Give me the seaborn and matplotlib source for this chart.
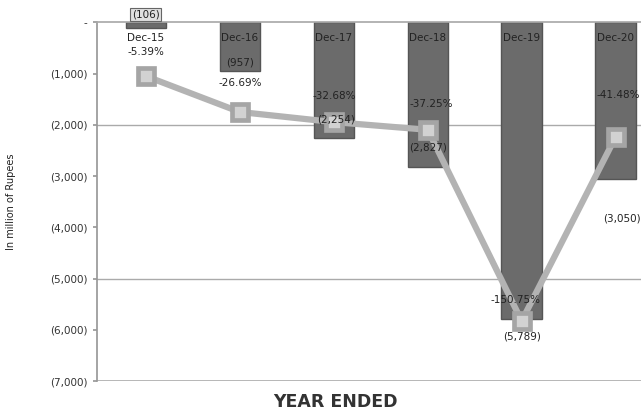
import matplotlib
matplotlib.use("Agg")
import matplotlib.pyplot as plt
import seaborn as sns
import numpy as np
import pandas as pd

# ---- data ----
categories = ["Dec-15", "Dec-16", "Dec-17", "Dec-18", "Dec-19", "Dec-20"]
net_loss = [-106, -957, -2254, -2827, -5789, -3050]          # in million of Rupees
loss_labels = ["(106)", "(957)", "(2,254)", "(2,827)", "(5,789)", "(3,050)"]
pct_values = [-5.39, -26.69, -32.68, -37.25, -150.75, -41.48]
pct_labels = ["-5.39%", "-26.69%", "-32.68%", "-37.25%", "-150.75%", "-41.48%"]
y_ticks = [0, -1000, -2000, -3000, -4000, -5000, -6000, -7000]
y_tick_labels = ["-", "(1,000)", "(2,000)", "(3,000)", "(4,000)", "(5,000)", "(6,000)", "(7,000)"]

# ---- styling (label offsets in pixels) ----
bar_label_off = [(0, 13), (0, 9), (2, 18), (0, 20), (0, -18), (6, -40)]
pct_label_off = [(0, 24), (0, 29), (0, 26), (4, 26), (-6, 21), (3, 42)]

sns.set_theme(style="white")
plt.rcParams['font.family'] = ['DejaVu Sans']

fig = plt.figure(figsize=(6.41, 4.19), dpi=100)
ax = fig.add_axes([97/641, 1-381/419, 544/641, (381-22.4)/419])

df = pd.DataFrame({"cat": categories, "loss": net_loss})
sns.barplot(data=df, x="cat", y="loss", ax=ax, color="#6b6b6b", width=0.43,
            edgecolor="#555555", linewidth=1.0, saturation=1)

ax.set_ylim(-7000, 0)
ax.set_xlim(-0.52, 5.27)
ax.set_yticks(y_ticks)
ax.set_yticklabels(y_tick_labels, fontsize=7.5, color="#333333")
ax.set_xticks([])
ax.set_xlabel("")
ax.set_ylabel("In million of Rupees", fontsize=7, color="#222222", labelpad=24)
for s in ["right", "bottom"]:
    ax.spines[s].set_visible(False)
ax.spines["left"].set_color("#999999")
ax.spines["top"].set_color("#aaaaaa")
ax.axhline(-7000, color="#aaaaaa", lw=1.2, zorder=0)
for g in [-2000, -5000]:
    ax.axhline(g, color="#aaaaaa", lw=1.0, zorder=0)
ax.tick_params(axis="y", length=3, color="#999999", pad=4, left=True)

# category labels just below the zero line
for i, c in enumerate(categories):
    ax.annotate(c, (i, 0), xytext=(0, -16), textcoords="offset pixels",
                ha="center", va="center", fontsize=7.5, color="#222222")

# secondary axis for percentage line
ax2 = ax.twinx()
sns.pointplot(x=categories, y=pct_values, ax=ax2, color="#b3b3b3", markers="s",
              markersize=12, linewidth=4.5, markeredgecolor="#a5a5a5",
              markerfacecolor="#d2d2d2")
ax2.set_ylim(-186.4, 26.5)
ax2.set_xlim(-0.52, 5.27)
ax2.axis("off")
for i, (p, lab) in enumerate(zip(pct_values, pct_labels)):
    dx, dy = pct_label_off[i]
    ax2.annotate(lab, (i, p), xytext=(dx, dy), textcoords="offset pixels",
                 ha="center", va="center", fontsize=7.5, color="#222222", zorder=6)

# bar value labels (drawn on top of the line)
for i, (v, lab) in enumerate(zip(net_loss, loss_labels)):
    dx, dy = bar_label_off[i]
    kw = {}
    if i == 0:
        kw["bbox"] = dict(boxstyle="square,pad=0.15", fc="#e0e0e0", ec="#666666", lw=0.8)
    ax2.annotate(lab, (i, v), xycoords=ax.transData, xytext=(dx, dy),
                 textcoords="offset pixels", ha="center", va="center",
                 fontsize=7.5, color="#222222", zorder=7, **kw)

fig.text(335/641, 1-402/419, "YEAR ENDED", ha="center", va="center",
         fontsize=12.5, fontweight="bold", color="#333333")

fig.savefig("out.png", dpi=100)
